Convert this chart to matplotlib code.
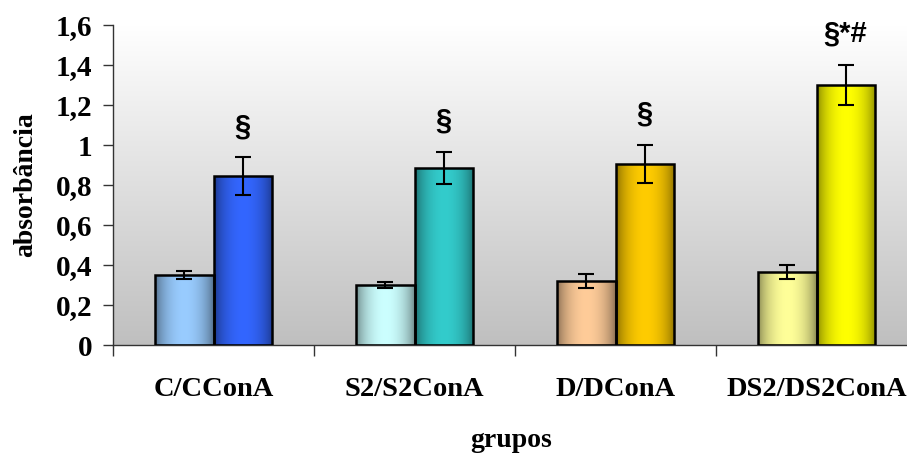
import numpy as np
import matplotlib.pyplot as plt
from matplotlib.colors import to_rgb
from matplotlib.ticker import FixedLocator, FuncFormatter

# absorbance per group: control wells and ConA-stimulated wells
grupos = ['C/CConA', 'S2/S2ConA', 'D/DConA', 'DS2/DS2ConA']
basal = [0.35, 0.30, 0.32, 0.365]
basal_err = [0.02, 0.015, 0.035, 0.035]
cona = [0.845, 0.885, 0.905, 1.30]
cona_err = [0.093, 0.08, 0.095, 0.10]
sig = ['§', '§', '§', '§*#']

basal_colors = ['#99ccff', '#ccffff', '#ffcc99', '#ffff99']
cona_colors = ['#3366ff', '#33cccc', '#ffcc00', '#ffff00']


def shade(ax, patch, color):
    """Fill a bar with a horizontal cylinder-like gradient"""
    x0, y0 = patch.get_x(), patch.get_y()
    w, h = patch.get_width(), patch.get_height()
    c = np.array(to_rgb(color))
    dark = c * 0.5
    t = np.linspace(0, 1, 64)
    f = np.sin(np.pi * t) ** 0.6
    img = dark[None, :] + (c - dark)[None, :] * f[:, None]
    im = ax.imshow(img[None, :, :], extent=(x0, x0 + w, y0, y0 + h),
                   aspect='auto', zorder=2, interpolation='bilinear')
    im.set_clip_path(patch)


dpi = 100
fig = plt.figure(figsize=(907 / dpi, 459 / dpi), dpi=dpi)
ax = fig.add_axes([113 / 907, 114 / 459, 804 / 907, 320 / 459])

# gray background fading to white at the top
bg = np.linspace(0.75, 1.0, 256)[:, None]
ax.imshow(np.dstack([bg, bg, bg]), extent=(-0.5, 3.5, 0, 1.6), origin='lower',
          aspect='auto', zorder=0, interpolation='bilinear')

xs = np.arange(len(grupos))
w = 0.29
b1 = ax.bar(xs - w / 2, basal, w, facecolor='none', edgecolor='black',
            linewidth=1.8, zorder=3)
b2 = ax.bar(xs + w / 2, cona, w, facecolor='none', edgecolor='black',
            linewidth=1.8, zorder=3)
for p, col in zip(b1.patches, basal_colors):
    shade(ax, p, col)
for p, col in zip(b2.patches, cona_colors):
    shade(ax, p, col)

ax.errorbar(xs - w / 2, basal, yerr=basal_err, fmt='none', ecolor='black',
            elinewidth=1.5, capsize=5.5, capthick=1.5, zorder=4)
ax.errorbar(xs + w / 2, cona, yerr=cona_err, fmt='none', ecolor='black',
            elinewidth=1.5, capsize=5.5, capthick=1.5, zorder=4)

for x, v, e, s in zip(xs, cona, cona_err, sig):
    y = max(1.08, v + e + 0.155)
    ax.text(x + w / 2, y, s, ha='center', va='center', fontsize=21,
            family='Liberation Sans', fontweight='bold', zorder=5)

ax.set_xlim(-0.5, 3.5)
ax.set_ylim(0, 1.6)

for side in ['top', 'right']:
    ax.spines[side].set_visible(False)
for side in ['left', 'bottom']:
    ax.spines[side].set_color('#333333')
    ax.spines[side].set_linewidth(1.0)

ax.yaxis.set_major_locator(FixedLocator(np.arange(0, 1.61, 0.2)))
ax.yaxis.set_major_formatter(
    FuncFormatter(lambda v, pos: f'{round(v, 1):g}'.replace('.', ',')))
ax.tick_params(axis='y', direction='out', length=7, width=1, color='#333333',
               pad=8)

ax.set_xticks(xs - 0.5)
ax.set_xticklabels([])
ax.set_xticks(xs, minor=True)
ax.set_xticklabels(grupos, minor=True)
ax.tick_params(axis='x', which='major', direction='out', length=8, width=1,
               color='#333333')
ax.tick_params(axis='x', which='minor', length=0, pad=23)

for lab in ax.get_yticklabels() + ax.get_xticklabels(minor=True):
    lab.set_family('Liberation Serif')
    lab.set_fontweight('bold')
for lab in ax.get_yticklabels():
    lab.set_fontsize(21)
for lab in ax.get_xticklabels(minor=True):
    lab.set_fontsize(20.5)

ax.set_ylabel('absorbância', family='Liberation Serif', fontweight='bold',
              fontsize=20, va='center')
ax.yaxis.set_label_coords(-0.109, 0.5)
ax.set_xlabel('grupos', family='Liberation Serif', fontweight='bold',
              fontsize=20, va='center')
ax.xaxis.set_label_coords(0.495, -0.297)

fig.savefig('out.png', dpi=dpi)
